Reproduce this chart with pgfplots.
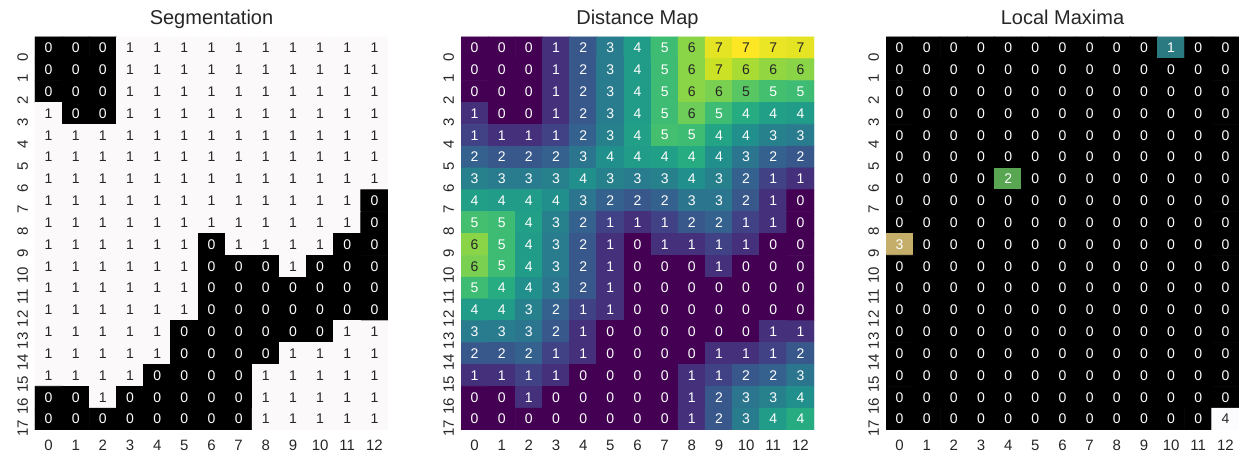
\documentclass[border=0pt]{standalone}
\usepackage{pgfplots}
\pgfplotsset{compat=1.18}
\usepackage{pgfplotstable}
\usepackage{fontspec}
\setmainfont{Liberation Sans}
\definecolor{dtext}{HTML}{262626}
\newcommand\ticksize{\fontsize{7.5}{9}\selectfont}
\newcommand\annsize{\fontsize{7}{8}\selectfont}
\newcommand\titlesize{\fontsize{10}{12}\selectfont}

% Segmentation, row-major (18 rows x 13 columns)
\pgfplotstableread[row sep=\\]{
v\\
0\\0\\0\\1\\1\\1\\1\\1\\1\\1\\1\\1\\1\\
0\\0\\0\\1\\1\\1\\1\\1\\1\\1\\1\\1\\1\\
0\\0\\0\\1\\1\\1\\1\\1\\1\\1\\1\\1\\1\\
1\\0\\0\\1\\1\\1\\1\\1\\1\\1\\1\\1\\1\\
1\\1\\1\\1\\1\\1\\1\\1\\1\\1\\1\\1\\1\\
1\\1\\1\\1\\1\\1\\1\\1\\1\\1\\1\\1\\1\\
1\\1\\1\\1\\1\\1\\1\\1\\1\\1\\1\\1\\1\\
1\\1\\1\\1\\1\\1\\1\\1\\1\\1\\1\\1\\0\\
1\\1\\1\\1\\1\\1\\1\\1\\1\\1\\1\\1\\0\\
1\\1\\1\\1\\1\\1\\0\\1\\1\\1\\1\\0\\0\\
1\\1\\1\\1\\1\\1\\0\\0\\0\\1\\0\\0\\0\\
1\\1\\1\\1\\1\\1\\0\\0\\0\\0\\0\\0\\0\\
1\\1\\1\\1\\1\\1\\0\\0\\0\\0\\0\\0\\0\\
1\\1\\1\\1\\1\\0\\0\\0\\0\\0\\0\\1\\1\\
1\\1\\1\\1\\1\\0\\0\\0\\0\\1\\1\\1\\1\\
1\\1\\1\\1\\0\\0\\0\\0\\1\\1\\1\\1\\1\\
0\\0\\1\\0\\0\\0\\0\\0\\1\\1\\1\\1\\1\\
0\\0\\0\\0\\0\\0\\0\\0\\1\\1\\1\\1\\1\\
}\seg

% Distance map, row-major
\pgfplotstableread[row sep=\\]{
v\\
0\\0\\0\\1\\2\\3\\4\\5\\6\\7\\7.280\\7.071\\7\\
0\\0\\0\\1\\2\\3\\4\\5\\6\\6.708\\6.325\\6.083\\6\\
0\\0\\0\\1\\2\\3\\4\\5\\6\\5.831\\5.385\\5.099\\5\\
1\\0\\0\\1\\2\\3\\4\\5\\5.657\\5\\4.472\\4.123\\4\\
1.414\\1\\1\\1.414\\2.236\\3.162\\4.123\\5.099\\5\\4.243\\3.606\\3.162\\3\\
2.236\\2\\2\\2.236\\2.828\\3.606\\4\\4.123\\4.472\\3.606\\2.828\\2.236\\2\\
3.162\\3\\3\\3.162\\3.606\\3.162\\3\\3.162\\3.606\\3.162\\2.236\\1.414\\1\\
4.123\\4\\4\\3.606\\2.828\\2.236\\2\\2.236\\2.828\\2.828\\2\\1\\0\\
5.099\\5\\4.123\\3.162\\2.236\\1.414\\1\\1.414\\2\\2.236\\1.414\\1\\0\\
6\\5\\4\\3\\2\\1\\0\\1\\1\\1.414\\1\\0\\0\\
5.831\\5\\4\\3\\2\\1\\0\\0\\0\\1\\0\\0\\0\\
5\\4.472\\3.606\\2.828\\2\\1\\0\\0\\0\\0\\0\\0\\0\\
4\\4\\3.162\\2.236\\1.414\\1\\0\\0\\0\\0\\0\\0\\0\\
3\\3\\2.828\\2\\1\\0\\0\\0\\0\\0\\0\\1\\1\\
2\\2\\2.236\\1.414\\1\\0\\0\\0\\0\\1\\1\\1.414\\2\\
1\\1\\1.414\\1\\0\\0\\0\\0\\1\\1.414\\2\\2.236\\2.828\\
0\\0\\1\\0\\0\\0\\0\\0\\1\\2\\2.828\\3.162\\3.606\\
0\\0\\0\\0\\0\\0\\0\\0\\1\\2\\3\\4\\4.472\\
}\dist

% Local maxima, row-major
\pgfplotstableread[row sep=\\]{
v\\
0\\0\\0\\0\\0\\0\\0\\0\\0\\0\\1\\0\\0\\
0\\0\\0\\0\\0\\0\\0\\0\\0\\0\\0\\0\\0\\
0\\0\\0\\0\\0\\0\\0\\0\\0\\0\\0\\0\\0\\
0\\0\\0\\0\\0\\0\\0\\0\\0\\0\\0\\0\\0\\
0\\0\\0\\0\\0\\0\\0\\0\\0\\0\\0\\0\\0\\
0\\0\\0\\0\\0\\0\\0\\0\\0\\0\\0\\0\\0\\
0\\0\\0\\0\\2\\0\\0\\0\\0\\0\\0\\0\\0\\
0\\0\\0\\0\\0\\0\\0\\0\\0\\0\\0\\0\\0\\
0\\0\\0\\0\\0\\0\\0\\0\\0\\0\\0\\0\\0\\
3\\0\\0\\0\\0\\0\\0\\0\\0\\0\\0\\0\\0\\
0\\0\\0\\0\\0\\0\\0\\0\\0\\0\\0\\0\\0\\
0\\0\\0\\0\\0\\0\\0\\0\\0\\0\\0\\0\\0\\
0\\0\\0\\0\\0\\0\\0\\0\\0\\0\\0\\0\\0\\
0\\0\\0\\0\\0\\0\\0\\0\\0\\0\\0\\0\\0\\
0\\0\\0\\0\\0\\0\\0\\0\\0\\0\\0\\0\\0\\
0\\0\\0\\0\\0\\0\\0\\0\\0\\0\\0\\0\\0\\
0\\0\\0\\0\\0\\0\\0\\0\\0\\0\\0\\0\\0\\
0\\0\\0\\0\\0\\0\\0\\0\\0\\0\\0\\0\\4\\
}\lmax

\pgfplotsset{
  /pgfplots/table/gridxy/.style={x index=0, y index=0,
    x expr={\coordindex-13*floor((\coordindex+0.5)/13)},
    y expr={floor((\coordindex+0.5)/13)}},
  hm/.style={scale only axis, width=176.5pt, height=196.5pt, anchor=south west,
    xmin=-0.5, xmax=12.5, ymin=-0.5, ymax=17.5, y dir=reverse,
    axis line style={draw=none}, major tick length=0pt,
    xtick={0,...,12}, ytick={0,...,17},
    tick label style={font=\ticksize, text=dtext},
    xticklabel style={yshift=-1.5pt},
    yticklabel style={rotate=90, anchor=south, xshift=-4.5pt},
    /pgf/number format/assume math mode=true,
    title style={font=\titlesize, text=dtext, anchor=base, at={(0.5,1)}},
  },
  hmcells/.style={matrix plot*, mesh/cols=13, point meta=\thisrow{v}},
  hmlabs/.style={draw=none, mark=none, point meta=\thisrow{v},
    nodes near coords={\pgfmathprintnumber[fixed,precision=0]{\pgfplotspointmeta}},
    every node near coord/.append style={font=\annsize, anchor=center, text=#1}},
}

\begin{document}
\begin{tikzpicture}
\useasboundingbox (0,0) rectangle (619.5pt,226.5pt);

\begin{axis}[hm, at={(17.5pt,11.5pt)}, title={Segmentation},
  colormap={segc}{rgb255(0)=(0,0,0) rgb255(1)=(252,249,250)},
  point meta min=0, point meta max=1]
\addplot[hmcells] table[gridxy] {\seg};
\end{axis}
\begin{axis}[hm, at={(17.5pt,11.5pt)}, hide axis]
\addplot[hmlabs=white, restrict expr to domain={\thisrow{v}}{-1:0.5}] table[gridxy] {\seg};
\addplot[hmlabs=dtext, restrict expr to domain={\thisrow{v}}{0.5:100}] table[gridxy] {\seg};
\end{axis}

\begin{axis}[hm, at={(230.5pt,11.5pt)}, title={Distance Map},
  colormap={vir}{rgb255(0)=(68,1,84) rgb255(1)=(72,36,117) rgb255(2)=(65,68,135) rgb255(3)=(53,95,141) rgb255(4)=(42,120,142) rgb255(5)=(33,145,140) rgb255(6)=(34,168,132) rgb255(7)=(68,191,112) rgb255(8)=(122,209,81) rgb255(9)=(189,223,38) rgb255(10)=(253,231,37)},
  point meta min=0, point meta max=7.280]
\addplot[hmcells] table[gridxy] {\dist};
\end{axis}
\begin{axis}[hm, at={(230.5pt,11.5pt)}, hide axis]
\addplot[hmlabs=white, restrict expr to domain={\thisrow{v}}{-1:5.2}] table[gridxy] {\dist};
\addplot[hmlabs=dtext, restrict expr to domain={\thisrow{v}}{5.2:100}] table[gridxy] {\dist};
\end{axis}

\begin{axis}[hm, at={(443pt,11.5pt)}, title={Local Maxima},
  colormap={lmc}{rgb255(0)=(0,0,0) rgb255(1)=(43,122,130) rgb255(2)=(88,165,82) rgb255(3)=(196,174,106) rgb255(4)=(252,251,253)},
  point meta min=0, point meta max=4]
\addplot[hmcells] table[gridxy] {\lmax};
\end{axis}
\begin{axis}[hm, at={(443pt,11.5pt)}, hide axis]
\addplot[hmlabs=white, restrict expr to domain={\thisrow{v}}{-1:3.5}] table[gridxy] {\lmax};
\addplot[hmlabs=dtext, restrict expr to domain={\thisrow{v}}{3.5:100}] table[gridxy] {\lmax};
\end{axis}
\end{tikzpicture}
\end{document}
